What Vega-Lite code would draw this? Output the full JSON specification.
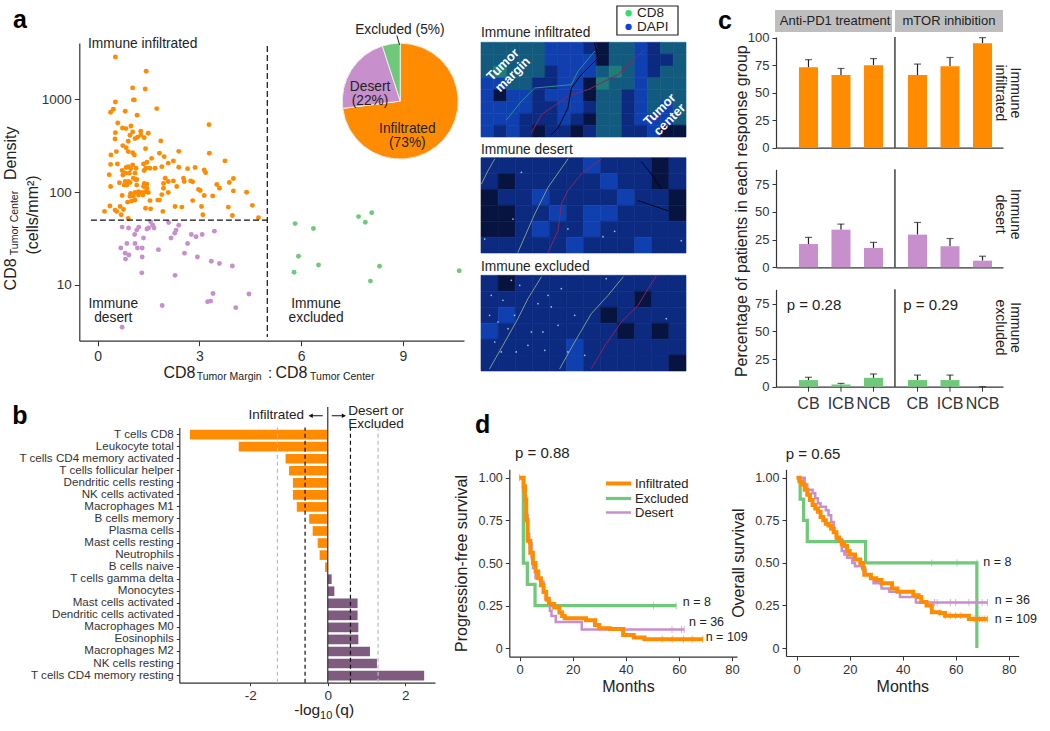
{
"$schema":"https://vega.github.io/schema/vega-lite/v6.json",
"width":1050,"height":731,"padding":0,"autosize":"none","background":"white",
"config":{"font":"Liberation Sans","view":{"stroke":null},
"text":{"font":"Liberation Sans","baseline":"middle","align":"left","color":"#222","lineBreak":"\n","fontSize":13.75,"lineHeight":14},
"axis":{"grid":false,"domainColor":"#333","tickColor":"#333","labelColor":"#333","titleColor":"#222","labelFont":"Liberation Sans","titleFont":"Liberation Sans","titleFontWeight":"normal","labelFontSize":13,"tickSize":4,"labelPadding":3,"labelOverlap":false,"labelFlush":false,"domainWidth":1.2,"tickWidth":1}},
"resolve":{"scale":{"x":"independent","y":"independent","color":"independent","theta":"independent","xOffset":"independent","strokeWidth":"independent"},"axis":{"x":"independent","y":"independent"}},
"datasets":{
"one":[{"note":1}],
"pie":[{"group":"Infiltrated","share":73,"rank":1},{"group":"Desert","share":22,"rank":2},{"group":"Excluded","share":5,"rank":3}],
"scatter":[
{"group":"Infiltrated","ratio":0.52,"density":2858},{"group":"Infiltrated","ratio":1.43,"density":2003},{"group":"Infiltrated","ratio":1.03,"density":1325},{"group":"Infiltrated","ratio":1.4,"density":1292},{"group":"Infiltrated","ratio":1.05,"density":984},{"group":"Infiltrated","ratio":1.08,"density":984},{"group":"Infiltrated","ratio":0.52,"density":936},{"group":"Infiltrated","ratio":0.46,"density":780},{"group":"Infiltrated","ratio":0.38,"density":725},{"group":"Infiltrated","ratio":0.81,"density":743},{"group":"Infiltrated","ratio":1.74,"density":793},{"group":"Infiltrated","ratio":1.16,"density":672},{"group":"Infiltrated","ratio":0.59,"density":556},{"group":"Infiltrated","ratio":3.28,"density":533},{"group":"Infiltrated","ratio":0.98,"density":516},{"group":"Infiltrated","ratio":0.73,"density":491},{"group":"Infiltrated","ratio":0.83,"density":483},{"group":"Infiltrated","ratio":0.52,"density":437},{"group":"Infiltrated","ratio":1.03,"density":445},{"group":"Infiltrated","ratio":1.27,"density":452},{"group":"Infiltrated","ratio":1.49,"density":430},{"group":"Infiltrated","ratio":0.95,"density":409},{"group":"Infiltrated","ratio":0.51,"density":374},{"group":"Infiltrated","ratio":1.17,"density":390},{"group":"Infiltrated","ratio":1.1,"density":377},{"group":"Infiltrated","ratio":1.27,"density":413},{"group":"Infiltrated","ratio":1.37,"density":386},{"group":"Infiltrated","ratio":1.86,"density":356},{"group":"Infiltrated","ratio":0.9,"density":353},{"group":"Infiltrated","ratio":0.74,"density":317},{"group":"Infiltrated","ratio":0.84,"density":301},{"group":"Infiltrated","ratio":1.41,"density":294},{"group":"Infiltrated","ratio":0.55,"density":273},{"group":"Infiltrated","ratio":0.39,"density":251},{"group":"Infiltrated","ratio":0.9,"density":273},{"group":"Infiltrated","ratio":1.03,"density":266},{"group":"Infiltrated","ratio":1.08,"density":251},{"group":"Infiltrated","ratio":3.29,"density":262},{"group":"Infiltrated","ratio":1.82,"density":262},{"group":"Infiltrated","ratio":1.96,"density":241},{"group":"Infiltrated","ratio":2.39,"density":275},{"group":"Infiltrated","ratio":1.59,"density":231},{"group":"Infiltrated","ratio":1.45,"density":210},{"group":"Infiltrated","ratio":1.35,"density":201},{"group":"Infiltrated","ratio":3.75,"density":217},{"group":"Infiltrated","ratio":2.23,"density":217},{"group":"Infiltrated","ratio":2.08,"density":205},{"group":"Infiltrated","ratio":2.87,"density":184},{"group":"Infiltrated","ratio":2.65,"density":179},{"group":"Infiltrated","ratio":2.39,"density":185},{"group":"Infiltrated","ratio":0.38,"density":199},{"group":"Infiltrated","ratio":0.58,"density":201},{"group":"Infiltrated","ratio":0.9,"density":188},{"group":"Infiltrated","ratio":1.03,"density":196},{"group":"Infiltrated","ratio":0.84,"density":184},{"group":"Infiltrated","ratio":0.97,"density":178},{"group":"Infiltrated","ratio":1.13,"density":181},{"group":"Infiltrated","ratio":0.72,"density":171},{"group":"Infiltrated","ratio":0.81,"density":160},{"group":"Infiltrated","ratio":1.89,"density":188},{"group":"Infiltrated","ratio":1.69,"density":181},{"group":"Infiltrated","ratio":1.54,"density":181},{"group":"Infiltrated","ratio":1.42,"density":181},{"group":"Infiltrated","ratio":1.37,"density":171},{"group":"Infiltrated","ratio":3.14,"density":173},{"group":"Infiltrated","ratio":3.18,"density":162},{"group":"Infiltrated","ratio":0.34,"density":154},{"group":"Infiltrated","ratio":0.74,"density":153},{"group":"Infiltrated","ratio":0.93,"density":160},{"group":"Infiltrated","ratio":1.1,"density":160},{"group":"Infiltrated","ratio":1.05,"density":141},{"group":"Infiltrated","ratio":1.99,"density":141},{"group":"Infiltrated","ratio":4.0,"density":140},{"group":"Infiltrated","ratio":1.13,"density":135},{"group":"Infiltrated","ratio":0.64,"density":126},{"group":"Infiltrated","ratio":0.81,"density":130},{"group":"Infiltrated","ratio":0.9,"density":130},{"group":"Infiltrated","ratio":1.15,"density":137},{"group":"Infiltrated","ratio":2.08,"density":130},{"group":"Infiltrated","ratio":2.23,"density":132},{"group":"Infiltrated","ratio":2.53,"density":141},{"group":"Infiltrated","ratio":2.55,"density":130},{"group":"Infiltrated","ratio":2.74,"density":132},{"group":"Infiltrated","ratio":2.8,"density":129},{"group":"Infiltrated","ratio":3.88,"density":127},{"group":"Infiltrated","ratio":1.37,"density":124},{"group":"Infiltrated","ratio":1.45,"density":122},{"group":"Infiltrated","ratio":1.94,"density":124},{"group":"Infiltrated","ratio":0.38,"density":115},{"group":"Infiltrated","ratio":0.78,"density":119},{"group":"Infiltrated","ratio":0.86,"density":119},{"group":"Infiltrated","ratio":0.95,"density":127},{"group":"Infiltrated","ratio":1.15,"density":119},{"group":"Infiltrated","ratio":1.35,"density":115},{"group":"Infiltrated","ratio":1.45,"density":110},{"group":"Infiltrated","ratio":2.33,"density":115},{"group":"Infiltrated","ratio":3.51,"density":121},{"group":"Infiltrated","ratio":3.59,"density":110},{"group":"Infiltrated","ratio":2.97,"density":107},{"group":"Infiltrated","ratio":3.02,"density":104},{"group":"Infiltrated","ratio":0.97,"density":97},{"group":"Infiltrated","ratio":1.1,"density":99},{"group":"Infiltrated","ratio":1.2,"density":101},{"group":"Infiltrated","ratio":1.3,"density":99},{"group":"Infiltrated","ratio":1.4,"density":101},{"group":"Infiltrated","ratio":1.49,"density":99},{"group":"Infiltrated","ratio":1.94,"density":110},{"group":"Infiltrated","ratio":2.08,"density":99},{"group":"Infiltrated","ratio":1.89,"density":94},{"group":"Infiltrated","ratio":3.14,"density":92},{"group":"Infiltrated","ratio":3.39,"density":91},{"group":"Infiltrated","ratio":4.0,"density":103},{"group":"Infiltrated","ratio":4.39,"density":99.5},{"group":"Infiltrated","ratio":0.72,"density":92},{"group":"Infiltrated","ratio":0.95,"density":90},{"group":"Infiltrated","ratio":1.05,"density":90},{"group":"Infiltrated","ratio":1.2,"density":93},{"group":"Infiltrated","ratio":1.33,"density":93},{"group":"Infiltrated","ratio":1.1,"density":82},{"group":"Infiltrated","ratio":1.0,"density":80},{"group":"Infiltrated","ratio":0.88,"density":78},{"group":"Infiltrated","ratio":1.54,"density":81},{"group":"Infiltrated","ratio":1.77,"density":82},{"group":"Infiltrated","ratio":1.82,"density":82},{"group":"Infiltrated","ratio":2.8,"density":81},{"group":"Infiltrated","ratio":0.36,"density":71},{"group":"Infiltrated","ratio":0.66,"density":70},{"group":"Infiltrated","ratio":0.51,"density":64},{"group":"Infiltrated","ratio":0.76,"density":65},{"group":"Infiltrated","ratio":1.41,"density":67},{"group":"Infiltrated","ratio":1.56,"density":66},{"group":"Infiltrated","ratio":2.28,"density":70},{"group":"Infiltrated","ratio":2.48,"density":69},{"group":"Infiltrated","ratio":3.06,"density":70},{"group":"Infiltrated","ratio":3.85,"density":69},{"group":"Infiltrated","ratio":4.56,"density":72},{"group":"Infiltrated","ratio":0.2,"density":62},{"group":"Infiltrated","ratio":0.56,"density":62},{"group":"Infiltrated","ratio":1.92,"density":62},{"group":"Infiltrated","ratio":0.69,"density":57},{"group":"Infiltrated","ratio":3.1,"density":57},{"group":"Infiltrated","ratio":3.97,"density":56},{"group":"Infiltrated","ratio":0.9,"density":52},{"group":"Infiltrated","ratio":4.74,"density":53},
{"group":"Desert","ratio":1.56,"density":48},{"group":"Desert","ratio":2.09,"density":47},{"group":"Desert","ratio":0.72,"density":42},{"group":"Desert","ratio":0.91,"density":41},{"group":"Desert","ratio":1.21,"density":42},{"group":"Desert","ratio":1.15,"density":39},{"group":"Desert","ratio":1.09,"density":35},{"group":"Desert","ratio":1.45,"density":40},{"group":"Desert","ratio":1.5,"density":41},{"group":"Desert","ratio":1.62,"density":44},{"group":"Desert","ratio":1.66,"density":41},{"group":"Desert","ratio":2.39,"density":44},{"group":"Desert","ratio":2.31,"density":39},{"group":"Desert","ratio":2.27,"density":36},{"group":"Desert","ratio":2.76,"density":35},{"group":"Desert","ratio":2.9,"density":33},{"group":"Desert","ratio":3.08,"density":35},{"group":"Desert","ratio":3.44,"density":38},{"group":"Desert","ratio":1.35,"density":32},{"group":"Desert","ratio":2.16,"density":32},{"group":"Desert","ratio":0.86,"density":28},{"group":"Desert","ratio":1.1,"density":28},{"group":"Desert","ratio":1.17,"density":25},{"group":"Desert","ratio":1.31,"density":25},{"group":"Desert","ratio":0.68,"density":25},{"group":"Desert","ratio":2.65,"density":28},{"group":"Desert","ratio":1.79,"density":24},{"group":"Desert","ratio":0.81,"density":22},{"group":"Desert","ratio":0.92,"density":21},{"group":"Desert","ratio":2.56,"density":22},{"group":"Desert","ratio":2.94,"density":20},{"group":"Desert","ratio":1.31,"density":20},{"group":"Desert","ratio":0.82,"density":19},{"group":"Desert","ratio":3.35,"density":18},{"group":"Desert","ratio":3.59,"density":17},{"group":"Desert","ratio":3.97,"density":16},{"group":"Desert","ratio":1.3,"density":13.5},{"group":"Desert","ratio":2.28,"density":12.7},{"group":"Desert","ratio":3.4,"density":8.1},{"group":"Desert","ratio":3.33,"density":6.7},{"group":"Desert","ratio":3.24,"density":6.6},{"group":"Desert","ratio":4.46,"density":8.0},{"group":"Desert","ratio":1.9,"density":6.0},{"group":"Desert","ratio":4.07,"density":5.7},{"group":"Desert","ratio":0.72,"density":3.5},
{"group":"Excluded","ratio":5.82,"density":45.8},{"group":"Excluded","ratio":6.36,"density":40.5},{"group":"Excluded","ratio":7.69,"density":54.5},{"group":"Excluded","ratio":8.08,"density":60},{"group":"Excluded","ratio":7.89,"density":47.3},{"group":"Excluded","ratio":5.92,"density":20.4},{"group":"Excluded","ratio":6.51,"density":16.4},{"group":"Excluded","ratio":8.31,"density":15.9},{"group":"Excluded","ratio":5.79,"density":13.7},{"group":"Excluded","ratio":10.66,"density":14.2},{"group":"Excluded","ratio":8.04,"density":11}],
"cells":[{"cell":"T cells CD8","q":-3.56,"side":"Infiltrated"},{"cell":"Leukocyte total","q":-2.3,"side":"Infiltrated"},{"cell":"T cells CD4 memory activated","q":-1.09,"side":"Infiltrated"},{"cell":"T cells follicular helper","q":-1.0,"side":"Infiltrated"},{"cell":"Dendritic cells resting","q":-0.9,"side":"Infiltrated"},{"cell":"NK cells activated","q":-0.9,"side":"Infiltrated"},{"cell":"Macrophages M1","q":-0.8,"side":"Infiltrated"},{"cell":"B cells memory","q":-0.48,"side":"Infiltrated"},{"cell":"Plasma cells","q":-0.39,"side":"Infiltrated"},{"cell":"Mast cells resting","q":-0.26,"side":"Infiltrated"},{"cell":"Neutrophils","q":-0.21,"side":"Infiltrated"},{"cell":"B cells naive","q":-0.07,"side":"Infiltrated"},{"cell":"T cells gamma delta","q":0.1,"side":"Desert or Excluded"},{"cell":"Monocytes","q":0.17,"side":"Desert or Excluded"},{"cell":"Mast cells activated","q":0.77,"side":"Desert or Excluded"},{"cell":"Dendritic cells activated","q":0.77,"side":"Desert or Excluded"},{"cell":"Macrophages M0","q":0.79,"side":"Desert or Excluded"},{"cell":"Eosinophils","q":0.79,"side":"Desert or Excluded"},{"cell":"Macrophages M2","q":1.09,"side":"Desert or Excluded"},{"cell":"NK cells resting","q":1.27,"side":"Desert or Excluded"},{"cell":"T cells CD4 memory resting","q":2.49,"side":"Desert or Excluded"}],
"cbars":[
{"type":"Immune infiltrated","treatment":"Anti-PD1 treatment","response":"CB","pct":73,"upper":80},{"type":"Immune infiltrated","treatment":"Anti-PD1 treatment","response":"ICB","pct":66,"upper":72},{"type":"Immune infiltrated","treatment":"Anti-PD1 treatment","response":"NCB","pct":75,"upper":81},{"type":"Immune infiltrated","treatment":"mTOR inhibition","response":"CB","pct":66,"upper":76},{"type":"Immune infiltrated","treatment":"mTOR inhibition","response":"ICB","pct":74,"upper":82},{"type":"Immune infiltrated","treatment":"mTOR inhibition","response":"NCB","pct":95,"upper":100},
{"type":"Immune desert","treatment":"Anti-PD1 treatment","response":"CB","pct":21,"upper":27},{"type":"Immune desert","treatment":"Anti-PD1 treatment","response":"ICB","pct":34,"upper":39},{"type":"Immune desert","treatment":"Anti-PD1 treatment","response":"NCB","pct":17.5,"upper":22.5},{"type":"Immune desert","treatment":"mTOR inhibition","response":"CB","pct":29.5,"upper":40.5},{"type":"Immune desert","treatment":"mTOR inhibition","response":"ICB","pct":19,"upper":26},{"type":"Immune desert","treatment":"mTOR inhibition","response":"NCB","pct":6,"upper":10},
{"type":"Immune excluded","treatment":"Anti-PD1 treatment","response":"CB","pct":6,"upper":8.5},{"type":"Immune excluded","treatment":"Anti-PD1 treatment","response":"ICB","pct":2,"upper":3},{"type":"Immune excluded","treatment":"Anti-PD1 treatment","response":"NCB","pct":8,"upper":11.5},{"type":"Immune excluded","treatment":"mTOR inhibition","response":"CB","pct":6,"upper":10.5},{"type":"Immune excluded","treatment":"mTOR inhibition","response":"ICB","pct":6,"upper":10.5},{"type":"Immune excluded","treatment":"mTOR inhibition","response":"NCB","pct":0,"upper":0}],
"km":[
{"p":"PFS","group":"Excluded","months":0,"surv":1},{"p":"PFS","group":"Excluded","months":1.4,"surv":0.5},{"p":"PFS","group":"Excluded","months":2.9,"surv":0.375},{"p":"PFS","group":"Excluded","months":5.8,"surv":0.25},{"p":"PFS","group":"Excluded","months":59,"surv":0.25},
{"p":"PFS","group":"Desert","months":0,"surv":1},{"p":"PFS","group":"Desert","months":1.5,"surv":0.95},{"p":"PFS","group":"Desert","months":2,"surv":0.89},{"p":"PFS","group":"Desert","months":2.5,"surv":0.78},{"p":"PFS","group":"Desert","months":3,"surv":0.67},{"p":"PFS","group":"Desert","months":3.6,"surv":0.615},{"p":"PFS","group":"Desert","months":4.5,"surv":0.53},{"p":"PFS","group":"Desert","months":5,"surv":0.47},{"p":"PFS","group":"Desert","months":6,"surv":0.41},{"p":"PFS","group":"Desert","months":8,"surv":0.39},{"p":"PFS","group":"Desert","months":9,"surv":0.33},{"p":"PFS","group":"Desert","months":10,"surv":0.28},{"p":"PFS","group":"Desert","months":11.4,"surv":0.22},{"p":"PFS","group":"Desert","months":12,"surv":0.19},{"p":"PFS","group":"Desert","months":13.6,"surv":0.154},{"p":"PFS","group":"Desert","months":23.4,"surv":0.11},{"p":"PFS","group":"Desert","months":62,"surv":0.11},
{"p":"PFS","group":"Infiltrated","months":0,"surv":1},{"p":"PFS","group":"Infiltrated","months":1.5,"surv":0.95},{"p":"PFS","group":"Infiltrated","months":2,"surv":0.87},{"p":"PFS","group":"Infiltrated","months":2.5,"surv":0.75},{"p":"PFS","group":"Infiltrated","months":3,"surv":0.63},{"p":"PFS","group":"Infiltrated","months":4,"surv":0.56},{"p":"PFS","group":"Infiltrated","months":5,"surv":0.5},{"p":"PFS","group":"Infiltrated","months":6,"surv":0.45},{"p":"PFS","group":"Infiltrated","months":7,"surv":0.41},{"p":"PFS","group":"Infiltrated","months":8,"surv":0.37},{"p":"PFS","group":"Infiltrated","months":9,"surv":0.33},{"p":"PFS","group":"Infiltrated","months":10,"surv":0.29},{"p":"PFS","group":"Infiltrated","months":11,"surv":0.26},{"p":"PFS","group":"Infiltrated","months":13,"surv":0.24},{"p":"PFS","group":"Infiltrated","months":15,"surv":0.21},{"p":"PFS","group":"Infiltrated","months":16,"surv":0.19},{"p":"PFS","group":"Infiltrated","months":17,"surv":0.176},{"p":"PFS","group":"Infiltrated","months":25,"surv":0.165},{"p":"PFS","group":"Infiltrated","months":28.4,"surv":0.137},{"p":"PFS","group":"Infiltrated","months":30,"surv":0.117},{"p":"PFS","group":"Infiltrated","months":34,"surv":0.113},{"p":"PFS","group":"Infiltrated","months":39,"surv":0.078},{"p":"PFS","group":"Infiltrated","months":43,"surv":0.064},{"p":"PFS","group":"Infiltrated","months":47,"surv":0.053},{"p":"PFS","group":"Infiltrated","months":69,"surv":0.053},
{"p":"OS","group":"Excluded","months":0,"surv":1},{"p":"OS","group":"Excluded","months":1.3,"surv":0.875},{"p":"OS","group":"Excluded","months":2.6,"surv":0.75},{"p":"OS","group":"Excluded","months":4,"surv":0.625},{"p":"OS","group":"Excluded","months":26,"surv":0.5},{"p":"OS","group":"Excluded","months":68,"surv":0},
{"p":"OS","group":"Desert","months":0,"surv":1},{"p":"OS","group":"Desert","months":2,"surv":1},{"p":"OS","group":"Desert","months":3,"surv":0.96},{"p":"OS","group":"Desert","months":4,"surv":0.93},{"p":"OS","group":"Desert","months":6,"surv":0.91},{"p":"OS","group":"Desert","months":7,"surv":0.88},{"p":"OS","group":"Desert","months":8,"surv":0.85},{"p":"OS","group":"Desert","months":9,"surv":0.83},{"p":"OS","group":"Desert","months":11,"surv":0.81},{"p":"OS","group":"Desert","months":12,"surv":0.78},{"p":"OS","group":"Desert","months":13,"surv":0.74},{"p":"OS","group":"Desert","months":14,"surv":0.68},{"p":"OS","group":"Desert","months":15,"surv":0.64},{"p":"OS","group":"Desert","months":17,"surv":0.57},{"p":"OS","group":"Desert","months":18,"surv":0.55},{"p":"OS","group":"Desert","months":19,"surv":0.53},{"p":"OS","group":"Desert","months":21,"surv":0.5},{"p":"OS","group":"Desert","months":22,"surv":0.48},{"p":"OS","group":"Desert","months":25,"surv":0.46},{"p":"OS","group":"Desert","months":26,"surv":0.43},{"p":"OS","group":"Desert","months":28,"surv":0.41},{"p":"OS","group":"Desert","months":29,"surv":0.38},{"p":"OS","group":"Desert","months":32,"surv":0.35},{"p":"OS","group":"Desert","months":35,"surv":0.33},{"p":"OS","group":"Desert","months":39,"surv":0.3},{"p":"OS","group":"Desert","months":45,"surv":0.267},{"p":"OS","group":"Desert","months":72,"surv":0.267},
{"p":"OS","group":"Infiltrated","months":0,"surv":1},{"p":"OS","group":"Infiltrated","months":1,"surv":0.98},{"p":"OS","group":"Infiltrated","months":2,"surv":0.96},{"p":"OS","group":"Infiltrated","months":3,"surv":0.93},{"p":"OS","group":"Infiltrated","months":4,"surv":0.9},{"p":"OS","group":"Infiltrated","months":5,"surv":0.87},{"p":"OS","group":"Infiltrated","months":6,"surv":0.84},{"p":"OS","group":"Infiltrated","months":7,"surv":0.82},{"p":"OS","group":"Infiltrated","months":8,"surv":0.8},{"p":"OS","group":"Infiltrated","months":9,"surv":0.77},{"p":"OS","group":"Infiltrated","months":10,"surv":0.75},{"p":"OS","group":"Infiltrated","months":11,"surv":0.73},{"p":"OS","group":"Infiltrated","months":12,"surv":0.72},{"p":"OS","group":"Infiltrated","months":13,"surv":0.7},{"p":"OS","group":"Infiltrated","months":14,"surv":0.68},{"p":"OS","group":"Infiltrated","months":15,"surv":0.65},{"p":"OS","group":"Infiltrated","months":16,"surv":0.63},{"p":"OS","group":"Infiltrated","months":17,"surv":0.61},{"p":"OS","group":"Infiltrated","months":18,"surv":0.6},{"p":"OS","group":"Infiltrated","months":19,"surv":0.57},{"p":"OS","group":"Infiltrated","months":20,"surv":0.55},{"p":"OS","group":"Infiltrated","months":22,"surv":0.52},{"p":"OS","group":"Infiltrated","months":24,"surv":0.5},{"p":"OS","group":"Infiltrated","months":25,"surv":0.47},{"p":"OS","group":"Infiltrated","months":25.5,"surv":0.43},{"p":"OS","group":"Infiltrated","months":28,"surv":0.41},{"p":"OS","group":"Infiltrated","months":30,"surv":0.4},{"p":"OS","group":"Infiltrated","months":32,"surv":0.38},{"p":"OS","group":"Infiltrated","months":36,"surv":0.35},{"p":"OS","group":"Infiltrated","months":38,"surv":0.33},{"p":"OS","group":"Infiltrated","months":44,"surv":0.31},{"p":"OS","group":"Infiltrated","months":46,"surv":0.3},{"p":"OS","group":"Infiltrated","months":47,"surv":0.27},{"p":"OS","group":"Infiltrated","months":49,"surv":0.25},{"p":"OS","group":"Infiltrated","months":51,"surv":0.21},{"p":"OS","group":"Infiltrated","months":54,"surv":0.205},{"p":"OS","group":"Infiltrated","months":56,"surv":0.19},{"p":"OS","group":"Infiltrated","months":64,"surv":0.19},{"p":"OS","group":"Infiltrated","months":65,"surv":0.17},{"p":"OS","group":"Infiltrated","months":72,"surv":0.17}],
"censor":[
{"p":"PFS","group":"Excluded","months":50.4,"surv":0.25},{"p":"PFS","group":"Excluded","months":59,"surv":0.25},{"p":"PFS","group":"Desert","months":57.4,"surv":0.11},{"p":"PFS","group":"Desert","months":61,"surv":0.11},{"p":"PFS","group":"Desert","months":62,"surv":0.11},{"p":"PFS","group":"Infiltrated","months":0,"surv":1},{"p":"PFS","group":"Infiltrated","months":1,"surv":0.93},{"p":"PFS","group":"Infiltrated","months":1.5,"surv":0.77},{"p":"PFS","group":"Infiltrated","months":53.7,"surv":0.053},{"p":"PFS","group":"Infiltrated","months":57.5,"surv":0.053},{"p":"PFS","group":"Infiltrated","months":61.7,"surv":0.053},{"p":"PFS","group":"Infiltrated","months":65,"surv":0.053},{"p":"PFS","group":"Infiltrated","months":69,"surv":0.053},
{"p":"OS","group":"Excluded","months":51,"surv":0.5},{"p":"OS","group":"Excluded","months":60.5,"surv":0.5},{"p":"OS","group":"Excluded","months":68,"surv":0.5},{"p":"OS","group":"Desert","months":52,"surv":0.267},{"p":"OS","group":"Desert","months":53,"surv":0.267},{"p":"OS","group":"Desert","months":58,"surv":0.267},{"p":"OS","group":"Desert","months":60,"surv":0.267},{"p":"OS","group":"Desert","months":65,"surv":0.267},{"p":"OS","group":"Desert","months":68,"surv":0.267},{"p":"OS","group":"Desert","months":70,"surv":0.267},{"p":"OS","group":"Desert","months":72,"surv":0.267},{"p":"OS","group":"Infiltrated","months":54,"surv":0.205},{"p":"OS","group":"Infiltrated","months":56,"surv":0.19},{"p":"OS","group":"Infiltrated","months":58,"surv":0.19},{"p":"OS","group":"Infiltrated","months":60,"surv":0.19},{"p":"OS","group":"Infiltrated","months":62,"surv":0.19},{"p":"OS","group":"Infiltrated","months":67,"surv":0.17},{"p":"OS","group":"Infiltrated","months":69,"surv":0.17},{"p":"OS","group":"Infiltrated","months":70,"surv":0.17},{"p":"OS","group":"Infiltrated","months":71,"surv":0.17},{"p":"OS","group":"Infiltrated","months":72,"surv":0.17}],
"tiles":[
{"im":"i","col":0,"row":0,"tone":3},{"im":"i","col":1,"row":0,"tone":3},{"im":"i","col":2,"row":0,"tone":3},{"im":"i","col":3,"row":0,"tone":3},{"im":"i","col":4,"row":0,"tone":3},{"im":"i","col":5,"row":0,"tone":2},{"im":"i","col":6,"row":0,"tone":2},{"im":"i","col":7,"row":0,"tone":2},{"im":"i","col":8,"row":0,"tone":1},{"im":"i","col":9,"row":0,"tone":0},{"im":"i","col":10,"row":0,"tone":3},{"im":"i","col":11,"row":0,"tone":3},{"im":"i","col":12,"row":0,"tone":2},{"im":"i","col":13,"row":0,"tone":1},{"im":"i","col":14,"row":0,"tone":3},{"im":"i","col":15,"row":0,"tone":3},
{"im":"i","col":0,"row":1,"tone":3},{"im":"i","col":1,"row":1,"tone":3},{"im":"i","col":2,"row":1,"tone":3},{"im":"i","col":3,"row":1,"tone":3},{"im":"i","col":4,"row":1,"tone":3},{"im":"i","col":5,"row":1,"tone":2},{"im":"i","col":6,"row":1,"tone":2},{"im":"i","col":7,"row":1,"tone":2},{"im":"i","col":8,"row":1,"tone":2},{"im":"i","col":9,"row":1,"tone":0},{"im":"i","col":10,"row":1,"tone":3},{"im":"i","col":11,"row":1,"tone":3},{"im":"i","col":12,"row":1,"tone":2},{"im":"i","col":13,"row":1,"tone":1},{"im":"i","col":14,"row":1,"tone":1},{"im":"i","col":15,"row":1,"tone":3},
{"im":"i","col":0,"row":2,"tone":3},{"im":"i","col":1,"row":2,"tone":4},{"im":"i","col":2,"row":2,"tone":3},{"im":"i","col":3,"row":2,"tone":3},{"im":"i","col":4,"row":2,"tone":3},{"im":"i","col":5,"row":2,"tone":1},{"im":"i","col":6,"row":2,"tone":2},{"im":"i","col":7,"row":2,"tone":2},{"im":"i","col":8,"row":2,"tone":2},{"im":"i","col":9,"row":2,"tone":3},{"im":"i","col":10,"row":2,"tone":4},{"im":"i","col":11,"row":2,"tone":3},{"im":"i","col":12,"row":2,"tone":2},{"im":"i","col":13,"row":2,"tone":1},{"im":"i","col":14,"row":2,"tone":3},{"im":"i","col":15,"row":2,"tone":3},
{"im":"i","col":0,"row":3,"tone":2},{"im":"i","col":1,"row":3,"tone":2},{"im":"i","col":2,"row":3,"tone":3},{"im":"i","col":3,"row":3,"tone":3},{"im":"i","col":4,"row":3,"tone":1},{"im":"i","col":5,"row":3,"tone":1},{"im":"i","col":6,"row":3,"tone":2},{"im":"i","col":7,"row":3,"tone":2},{"im":"i","col":8,"row":3,"tone":0},{"im":"i","col":9,"row":3,"tone":4},{"im":"i","col":10,"row":3,"tone":3},{"im":"i","col":11,"row":3,"tone":3},{"im":"i","col":12,"row":3,"tone":2},{"im":"i","col":13,"row":3,"tone":3},{"im":"i","col":14,"row":3,"tone":3},{"im":"i","col":15,"row":3,"tone":3},
{"im":"i","col":0,"row":4,"tone":2},{"im":"i","col":1,"row":4,"tone":0},{"im":"i","col":2,"row":4,"tone":2},{"im":"i","col":3,"row":4,"tone":2},{"im":"i","col":4,"row":4,"tone":1},{"im":"i","col":5,"row":4,"tone":2},{"im":"i","col":6,"row":4,"tone":2},{"im":"i","col":7,"row":4,"tone":2},{"im":"i","col":8,"row":4,"tone":0},{"im":"i","col":9,"row":4,"tone":3},{"im":"i","col":10,"row":4,"tone":3},{"im":"i","col":11,"row":4,"tone":1},{"im":"i","col":12,"row":4,"tone":2},{"im":"i","col":13,"row":4,"tone":3},{"im":"i","col":14,"row":4,"tone":3},{"im":"i","col":15,"row":4,"tone":3},
{"im":"i","col":0,"row":5,"tone":2},{"im":"i","col":1,"row":5,"tone":2},{"im":"i","col":2,"row":5,"tone":2},{"im":"i","col":3,"row":5,"tone":2},{"im":"i","col":4,"row":5,"tone":1},{"im":"i","col":5,"row":5,"tone":1},{"im":"i","col":6,"row":5,"tone":2},{"im":"i","col":7,"row":5,"tone":2},{"im":"i","col":8,"row":5,"tone":1},{"im":"i","col":9,"row":5,"tone":3},{"im":"i","col":10,"row":5,"tone":3},{"im":"i","col":11,"row":5,"tone":1},{"im":"i","col":12,"row":5,"tone":2},{"im":"i","col":13,"row":5,"tone":3},{"im":"i","col":14,"row":5,"tone":2},{"im":"i","col":15,"row":5,"tone":3},
{"im":"i","col":0,"row":6,"tone":2},{"im":"i","col":1,"row":6,"tone":2},{"im":"i","col":2,"row":6,"tone":2},{"im":"i","col":3,"row":6,"tone":1},{"im":"i","col":4,"row":6,"tone":1},{"im":"i","col":5,"row":6,"tone":1},{"im":"i","col":6,"row":6,"tone":2},{"im":"i","col":7,"row":6,"tone":1},{"im":"i","col":8,"row":6,"tone":0},{"im":"i","col":9,"row":6,"tone":3},{"im":"i","col":10,"row":6,"tone":3},{"im":"i","col":11,"row":6,"tone":1},{"im":"i","col":12,"row":6,"tone":2},{"im":"i","col":13,"row":6,"tone":2},{"im":"i","col":14,"row":6,"tone":2},{"im":"i","col":15,"row":6,"tone":3},
{"im":"i","col":0,"row":7,"tone":2},{"im":"i","col":1,"row":7,"tone":1},{"im":"i","col":2,"row":7,"tone":2},{"im":"i","col":3,"row":7,"tone":1},{"im":"i","col":4,"row":7,"tone":0},{"im":"i","col":5,"row":7,"tone":1},{"im":"i","col":6,"row":7,"tone":1},{"im":"i","col":7,"row":7,"tone":0},{"im":"i","col":8,"row":7,"tone":1},{"im":"i","col":9,"row":7,"tone":3},{"im":"i","col":10,"row":7,"tone":3},{"im":"i","col":11,"row":7,"tone":1},{"im":"i","col":12,"row":7,"tone":1},{"im":"i","col":13,"row":7,"tone":2},{"im":"i","col":14,"row":7,"tone":0},{"im":"i","col":15,"row":7,"tone":0},
{"im":"d","col":0,"row":0,"tone":6},{"im":"d","col":1,"row":0,"tone":6},{"im":"d","col":2,"row":0,"tone":6},{"im":"d","col":3,"row":0,"tone":6},{"im":"d","col":4,"row":0,"tone":6},{"im":"d","col":5,"row":0,"tone":6},{"im":"d","col":6,"row":0,"tone":7},{"im":"d","col":7,"row":0,"tone":6},{"im":"d","col":8,"row":0,"tone":6},{"im":"d","col":9,"row":0,"tone":6},{"im":"d","col":10,"row":0,"tone":5},{"im":"d","col":11,"row":0,"tone":6},
{"im":"d","col":0,"row":1,"tone":6},{"im":"d","col":1,"row":1,"tone":5},{"im":"d","col":2,"row":1,"tone":6},{"im":"d","col":3,"row":1,"tone":6},{"im":"d","col":4,"row":1,"tone":6},{"im":"d","col":5,"row":1,"tone":6},{"im":"d","col":6,"row":1,"tone":6},{"im":"d","col":7,"row":1,"tone":7},{"im":"d","col":8,"row":1,"tone":6},{"im":"d","col":9,"row":1,"tone":6},{"im":"d","col":10,"row":1,"tone":5},{"im":"d","col":11,"row":1,"tone":6},
{"im":"d","col":0,"row":2,"tone":5},{"im":"d","col":1,"row":2,"tone":6},{"im":"d","col":2,"row":2,"tone":6},{"im":"d","col":3,"row":2,"tone":7},{"im":"d","col":4,"row":2,"tone":6},{"im":"d","col":5,"row":2,"tone":6},{"im":"d","col":6,"row":2,"tone":6},{"im":"d","col":7,"row":2,"tone":6},{"im":"d","col":8,"row":2,"tone":7},{"im":"d","col":9,"row":2,"tone":6},{"im":"d","col":10,"row":2,"tone":6},{"im":"d","col":11,"row":2,"tone":5},
{"im":"d","col":0,"row":3,"tone":5},{"im":"d","col":1,"row":3,"tone":5},{"im":"d","col":2,"row":3,"tone":6},{"im":"d","col":3,"row":3,"tone":6},{"im":"d","col":4,"row":3,"tone":7},{"im":"d","col":5,"row":3,"tone":6},{"im":"d","col":6,"row":3,"tone":7},{"im":"d","col":7,"row":3,"tone":7},{"im":"d","col":8,"row":3,"tone":6},{"im":"d","col":9,"row":3,"tone":6},{"im":"d","col":10,"row":3,"tone":6},{"im":"d","col":11,"row":3,"tone":5},
{"im":"d","col":0,"row":4,"tone":5},{"im":"d","col":1,"row":4,"tone":5},{"im":"d","col":2,"row":4,"tone":6},{"im":"d","col":3,"row":4,"tone":7},{"im":"d","col":4,"row":4,"tone":6},{"im":"d","col":5,"row":4,"tone":6},{"im":"d","col":6,"row":4,"tone":7},{"im":"d","col":7,"row":4,"tone":6},{"im":"d","col":8,"row":4,"tone":6},{"im":"d","col":9,"row":4,"tone":6},{"im":"d","col":10,"row":4,"tone":6},{"im":"d","col":11,"row":4,"tone":6},
{"im":"d","col":0,"row":5,"tone":6},{"im":"d","col":1,"row":5,"tone":6},{"im":"d","col":2,"row":5,"tone":6},{"im":"d","col":3,"row":5,"tone":6},{"im":"d","col":4,"row":5,"tone":6},{"im":"d","col":5,"row":5,"tone":7},{"im":"d","col":6,"row":5,"tone":6},{"im":"d","col":7,"row":5,"tone":6},{"im":"d","col":8,"row":5,"tone":6},{"im":"d","col":9,"row":5,"tone":7},{"im":"d","col":10,"row":5,"tone":6},{"im":"d","col":11,"row":5,"tone":6},
{"im":"e","col":0,"row":0,"tone":6},{"im":"e","col":1,"row":0,"tone":5},{"im":"e","col":2,"row":0,"tone":6},{"im":"e","col":3,"row":0,"tone":6},{"im":"e","col":4,"row":0,"tone":6},{"im":"e","col":5,"row":0,"tone":6},{"im":"e","col":6,"row":0,"tone":6},{"im":"e","col":7,"row":0,"tone":6},{"im":"e","col":8,"row":0,"tone":6},{"im":"e","col":9,"row":0,"tone":6},{"im":"e","col":10,"row":0,"tone":6},{"im":"e","col":11,"row":0,"tone":6},
{"im":"e","col":0,"row":1,"tone":6},{"im":"e","col":1,"row":1,"tone":6},{"im":"e","col":2,"row":1,"tone":6},{"im":"e","col":3,"row":1,"tone":6},{"im":"e","col":4,"row":1,"tone":6},{"im":"e","col":5,"row":1,"tone":6},{"im":"e","col":6,"row":1,"tone":6},{"im":"e","col":7,"row":1,"tone":6},{"im":"e","col":8,"row":1,"tone":6},{"im":"e","col":9,"row":1,"tone":5},{"im":"e","col":10,"row":1,"tone":6},{"im":"e","col":11,"row":1,"tone":6},
{"im":"e","col":0,"row":2,"tone":6},{"im":"e","col":1,"row":2,"tone":7},{"im":"e","col":2,"row":2,"tone":6},{"im":"e","col":3,"row":2,"tone":6},{"im":"e","col":4,"row":2,"tone":6},{"im":"e","col":5,"row":2,"tone":6},{"im":"e","col":6,"row":2,"tone":6},{"im":"e","col":7,"row":2,"tone":5},{"im":"e","col":8,"row":2,"tone":6},{"im":"e","col":9,"row":2,"tone":6},{"im":"e","col":10,"row":2,"tone":6},{"im":"e","col":11,"row":2,"tone":6},
{"im":"e","col":0,"row":3,"tone":7},{"im":"e","col":1,"row":3,"tone":6},{"im":"e","col":2,"row":3,"tone":6},{"im":"e","col":3,"row":3,"tone":6},{"im":"e","col":4,"row":3,"tone":6},{"im":"e","col":5,"row":3,"tone":6},{"im":"e","col":6,"row":3,"tone":6},{"im":"e","col":7,"row":3,"tone":6},{"im":"e","col":8,"row":3,"tone":5},{"im":"e","col":9,"row":3,"tone":6},{"im":"e","col":10,"row":3,"tone":5},{"im":"e","col":11,"row":3,"tone":6},
{"im":"e","col":0,"row":4,"tone":6},{"im":"e","col":1,"row":4,"tone":6},{"im":"e","col":2,"row":4,"tone":6},{"im":"e","col":3,"row":4,"tone":6},{"im":"e","col":4,"row":4,"tone":6},{"im":"e","col":5,"row":4,"tone":7},{"im":"e","col":6,"row":4,"tone":6},{"im":"e","col":7,"row":4,"tone":6},{"im":"e","col":8,"row":4,"tone":6},{"im":"e","col":9,"row":4,"tone":6},{"im":"e","col":10,"row":4,"tone":6},{"im":"e","col":11,"row":4,"tone":6},
{"im":"e","col":0,"row":5,"tone":6},{"im":"e","col":1,"row":5,"tone":6},{"im":"e","col":2,"row":5,"tone":6},{"im":"e","col":3,"row":5,"tone":6},{"im":"e","col":4,"row":5,"tone":6},{"im":"e","col":5,"row":5,"tone":7},{"im":"e","col":6,"row":5,"tone":6},{"im":"e","col":7,"row":5,"tone":6},{"im":"e","col":8,"row":5,"tone":6},{"im":"e","col":9,"row":5,"tone":6},{"im":"e","col":10,"row":5,"tone":6},{"im":"e","col":11,"row":5,"tone":5}],
"traces":[
{"line":"i1","kind":"faint","seq":1,"u":0.124,"v":2.626},{"line":"i1","kind":"faint","seq":2,"u":0.197,"v":2.818},{"line":"i1","kind":"faint","seq":3,"u":0.262,"v":2.957},{"line":"i1","kind":"faint","seq":4,"u":0.441,"v":2.992},{"line":"i1","kind":"faint","seq":5,"u":0.473,"v":3.132},{"line":"i1","kind":"faint","seq":6,"u":0.554,"v":3.34},
{"line":"i2","kind":"boundary","seq":1,"u":0.246,"v":2.487},{"line":"i2","kind":"boundary","seq":2,"u":0.294,"v":2.678},{"line":"i2","kind":"boundary","seq":3,"u":0.424,"v":2.87},{"line":"i2","kind":"boundary","seq":4,"u":0.522,"v":2.94},{"line":"i2","kind":"boundary","seq":5,"u":0.668,"v":3.097},{"line":"i2","kind":"boundary","seq":6,"u":0.798,"v":3.358},
{"line":"i3","kind":"gap","seq":1,"u":0.554,"v":3.427},{"line":"i3","kind":"gap","seq":2,"u":0.571,"v":3.271},{"line":"i3","kind":"gap","seq":3,"u":0.489,"v":3.097},{"line":"i3","kind":"gap","seq":4,"u":0.441,"v":2.957},{"line":"i3","kind":"gap","seq":5,"u":0.424,"v":2.748},{"line":"i3","kind":"gap","seq":6,"u":0.376,"v":2.539},{"line":"i3","kind":"gap","seq":7,"u":0.343,"v":2.47},
{"line":"d1","kind":"margin","seq":1,"u":0.002,"v":1.954},{"line":"d1","kind":"margin","seq":2,"u":0.034,"v":2.093},{"line":"d1","kind":"margin","seq":3,"u":0.067,"v":2.215},
{"line":"d2","kind":"margin","seq":1,"u":0.18,"v":1.24},{"line":"d2","kind":"margin","seq":2,"u":0.262,"v":1.64},{"line":"d2","kind":"margin","seq":3,"u":0.327,"v":1.919},{"line":"d2","kind":"margin","seq":4,"u":0.424,"v":2.215},
{"line":"d3","kind":"boundary","seq":1,"u":0.327,"v":1.24},{"line":"d3","kind":"boundary","seq":2,"u":0.376,"v":1.466},{"line":"d3","kind":"boundary","seq":3,"u":0.392,"v":1.745},{"line":"d3","kind":"boundary","seq":4,"u":0.424,"v":1.884},{"line":"d3","kind":"boundary","seq":5,"u":0.489,"v":2.058},{"line":"d3","kind":"boundary","seq":6,"u":0.587,"v":2.215},
{"line":"d4","kind":"hole","seq":1,"u":0.782,"v":2.187},{"line":"d4","kind":"hole","seq":2,"u":0.831,"v":2.058},{"line":"d4","kind":"hole","seq":3,"u":0.88,"v":1.901},
{"line":"d5","kind":"gap","seq":1,"u":0.766,"v":1.78},{"line":"d5","kind":"gap","seq":2,"u":0.912,"v":1.675},
{"line":"e1","kind":"margin","seq":1,"u":0.042,"v":0.024},{"line":"e1","kind":"margin","seq":2,"u":0.107,"v":0.268},{"line":"e1","kind":"margin","seq":3,"u":0.18,"v":0.547},{"line":"e1","kind":"margin","seq":4,"u":0.229,"v":0.756},{"line":"e1","kind":"margin","seq":5,"u":0.294,"v":0.982},
{"line":"e2","kind":"margin","seq":1,"u":0.384,"v":0.024},{"line":"e2","kind":"margin","seq":2,"u":0.457,"v":0.303},{"line":"e2","kind":"margin","seq":3,"u":0.538,"v":0.599},{"line":"e2","kind":"margin","seq":4,"u":0.62,"v":0.791},{"line":"e2","kind":"margin","seq":5,"u":0.693,"v":0.982},
{"line":"e3","kind":"boundary","seq":1,"u":0.538,"v":0.024},{"line":"e3","kind":"boundary","seq":2,"u":0.611,"v":0.286},{"line":"e3","kind":"boundary","seq":3,"u":0.685,"v":0.512},{"line":"e3","kind":"boundary","seq":4,"u":0.766,"v":0.686},{"line":"e3","kind":"boundary","seq":5,"u":0.815,"v":0.86},{"line":"e3","kind":"boundary","seq":6,"u":0.855,"v":0.993}],
"speckles":[{"u":0.05,"v":0.791},{"u":0.107,"v":0.739},{"u":0.083,"v":0.512},{"u":0.067,"v":0.303},{"u":0.132,"v":0.442},{"u":0.172,"v":0.199},{"u":0.246,"v":0.408},{"u":0.164,"v":0.582},{"u":0.327,"v":0.791},{"u":0.343,"v":0.669},{"u":0.278,"v":0.704},{"u":0.392,"v":0.86},{"u":0.424,"v":0.199},{"u":0.311,"v":0.216},{"u":0.189,"v":0.895},{"u":0.042,"v":0.582},{"u":0.457,"v":0.582},{"u":0.099,"v":0.199},{"u":0.229,"v":0.268},{"u":0.376,"v":0.477},{"u":0.611,"v":0.965},{"u":0.904,"v":0.547},{"u":0.506,"v":0.164},{"u":0.148,"v":0.947},{"u":0.302,"v":0.408},{"u":0.156,"v":1.588},{"u":0.018,"v":1.379},{"u":0.424,"v":1.484},{"u":0.652,"v":1.459},{"u":0.977,"v":1.362},{"u":0.595,"v":1.404},{"u":0.197,"v":2.076}]
},
"layer":[
{"data":{"name":"one"},"layer":[
{"data":{"name":"scatter"},"mark":{"type":"circle","size":24,"opacity":1},"encoding":{
"x":{"field":"ratio","type":"quantitative","scale":{"domain":[-0.543,10.8],"range":[79.3,464],"nice":false,"zero":false},"axis":{"orient":"bottom","offset":-390.3,"values":[0,3,6,9],"format":"d","title":null,"labelFontSize":14,"tickSize":5,"labelPadding":4}},
"y":{"field":"density","type":"quantitative","scale":{"type":"log","domain":[2.51,4037],"range":[340.7,43],"nice":false},"axis":{"orient":"left","offset":-79.3,"values":[10,100,1000],"format":"d","title":null,"labelFontSize":13.5,"tickSize":5}},
"color":{"field":"group","type":"nominal","scale":{"domain":["Infiltrated","Desert","Excluded"],"range":["#FF8C00","#C78FCC","#70C97A"]},"legend":null}}},
{"mark":{"type":"rule","color":"#111","strokeWidth":1.2,"strokeDash":[6,3]},"encoding":{"x":{"datum":5},"y":{"datum":3750},"y2":{"datum":2.75}}},
{"mark":{"type":"rule","color":"#111","strokeWidth":1.2,"strokeDash":[6,3]},"encoding":{"x":{"datum":-0.2},"x2":{"datum":5},"y":{"datum":50}}},
{"data":{"name":"pie"},"mark":{"type":"arc","outerRadius":58,"stroke":"#eee","strokeWidth":1},"encoding":{"theta":{"field":"share","type":"quantitative","scale":{"domain":[0,100]}},"order":{"field":"rank"},"color":{"field":"group","type":"nominal","legend":null},"x":{"datum":8.92},"y":{"datum":955}}},
{"mark":{"type":"rule","color":"#222","strokeWidth":1},"encoding":{"x":{"datum":8.82},"x2":{"datum":8.9},"y":{"datum":4880},"y2":{"datum":3847}}},
{"mark":{"type":"text","fontSize":25,"fontWeight":"bold","align":"center","color":"#000"},"encoding":{"x":{"datum":-2.29},"y":{"datum":7145},"text":{"value":"a"}}},
{"mark":{"type":"text"},"encoding":{"x":{"datum":-0.286},"y":{"datum":3890},"text":{"value":"Immune infiltrated"}}},
{"mark":{"type":"text","align":"center"},"encoding":{"x":{"datum":0.46},"y":{"datum":6.19},"text":{"value":"Immune\ndesert"}}},
{"mark":{"type":"text","align":"center"},"encoding":{"x":{"datum":6.44},"y":{"datum":6.19},"text":{"value":"Immune\nexcluded"}}},
{"mark":{"type":"text","align":"center"},"encoding":{"x":{"datum":8.91},"y":{"datum":5570},"text":{"value":"Excluded (5%)"}}},
{"mark":{"type":"text","align":"center"},"encoding":{"x":{"datum":8.03},"y":{"datum":1340},"text":{"value":"Desert\n(22%)"}}},
{"mark":{"type":"text","align":"center"},"encoding":{"x":{"datum":9.13},"y":{"datum":475},"text":{"value":"Infiltrated\n(73%)"}}},
{"mark":{"type":"text","fontSize":16},"encoding":{"x":{"datum":1.94},"y":{"datum":1.12},"text":{"value":"CD8"}}},
{"mark":{"type":"text","fontSize":10.5},"encoding":{"x":{"datum":2.92},"y":{"datum":1.02},"text":{"value":"Tumor Margin"}}},
{"mark":{"type":"text","fontSize":15},"encoding":{"x":{"datum":5.02},"y":{"datum":1.12},"text":{"value":":"}}},
{"mark":{"type":"text","fontSize":16},"encoding":{"x":{"datum":5.24},"y":{"datum":1.12},"text":{"value":"CD8"}}},
{"mark":{"type":"text","fontSize":10.5},"encoding":{"x":{"datum":6.26},"y":{"datum":1.02},"text":{"value":"Tumor Center"}}},
{"mark":{"type":"text","fontSize":16,"angle":270,"align":"center"},"encoding":{"x":{"datum":-2.57},"y":{"datum":13},"text":{"value":"CD8"}}},
{"mark":{"type":"text","fontSize":10.5,"angle":270,"align":"center"},"encoding":{"x":{"datum":-2.45},"y":{"datum":46.5},"text":{"value":"Tumor Center"}}},
{"mark":{"type":"text","fontSize":16,"angle":270,"align":"center"},"encoding":{"x":{"datum":-2.57},"y":{"datum":262},"text":{"value":"Density"}}},
{"mark":{"type":"text","fontSize":16,"angle":270,"align":"center"},"encoding":{"x":{"datum":-1.91},"y":{"datum":56.8},"text":{"value":"(cells/mm²)"}}}
]},
{"data":{"name":"cells"},"mark":{"type":"bar"},"encoding":{
"x":{"field":"q","type":"quantitative","stack":null,"scale":{"domain":[-3.835,2.77],"range":[179.3,435],"nice":false,"zero":false},"axis":{"orient":"bottom","offset":-48.3,"values":[-2,0,2],"labelExpr":"datum.value+''","title":null,"labelFontSize":13.5,"tickSize":3}},
"y":{"field":"cell","type":"nominal","sort":null,"scale":{"range":[427.5,682.7],"paddingInner":0.2,"paddingOuter":0.19},"axis":{"orient":"left","offset":-179.3,"title":null,"labelFontSize":11.6,"tickSize":3,"labelPadding":3,"labelLimit":300}},
"color":{"field":"side","type":"nominal","scale":{"domain":["Infiltrated","Desert or Excluded"],"range":["#FF8C00","#7F5B80"]},"legend":null}}},
{"data":{"name":"one"},"layer":[
{"mark":{"type":"rule","color":"#333","strokeWidth":1.2},"encoding":{"x":{"datum":0,"axis":null,"scale":{"domain":[-3.835,2.77],"range":[179.3,435],"nice":false,"zero":false}},"y":{"datum":0,"axis":null,"scale":{"domain":[0,1],"range":[682.7,427.5],"nice":false}},"y2":{"datum":1.08}}},
{"mark":{"type":"rule","color":"#111","strokeWidth":1.2,"strokeDash":[4,3]},"encoding":{"x":{"datum":-0.586,"axis":null},"y":{"datum":0,"axis":null},"y2":{"datum":1}}},
{"mark":{"type":"rule","color":"#111","strokeWidth":1.2,"strokeDash":[4,3]},"encoding":{"x":{"datum":0.586,"axis":null},"y":{"datum":0,"axis":null},"y2":{"datum":1}}},
{"mark":{"type":"rule","color":"#bbb","strokeWidth":1.2,"strokeDash":[4,3]},"encoding":{"x":{"datum":-1.3,"axis":null},"y":{"datum":0,"axis":null},"y2":{"datum":1}}},
{"mark":{"type":"rule","color":"#bbb","strokeWidth":1.2,"strokeDash":[4,3]},"encoding":{"x":{"datum":1.3,"axis":null},"y":{"datum":0,"axis":null},"y2":{"datum":1}}},
{"mark":{"type":"rule","color":"#111","strokeWidth":1},"encoding":{"x":{"datum":-0.473,"axis":null},"x2":{"datum":-0.129},"y":{"datum":1.046,"axis":null}}},
{"mark":{"type":"rule","color":"#111","strokeWidth":1},"encoding":{"x":{"datum":0.103,"axis":null},"x2":{"datum":0.448},"y":{"datum":1.046,"axis":null}}},
{"mark":{"type":"point","shape":"triangle-left","filled":true,"size":22,"color":"#111","opacity":1},"encoding":{"x":{"datum":-0.44,"axis":null},"y":{"datum":1.046,"axis":null}}},
{"mark":{"type":"point","shape":"triangle-right","filled":true,"size":22,"color":"#111","opacity":1},"encoding":{"x":{"datum":0.415,"axis":null},"y":{"datum":1.046,"axis":null}}},
{"mark":{"type":"text","fontSize":13.5,"align":"right"},"encoding":{"x":{"datum":-0.612,"axis":null},"y":{"datum":1.049,"axis":null},"text":{"value":"Infiltrated"}}},
{"mark":{"type":"text","fontSize":13.5,"lineHeight":13},"encoding":{"x":{"datum":0.53,"axis":null},"y":{"datum":1.065,"axis":null},"text":{"value":"Desert or\nExcluded"}}},
{"mark":{"type":"text","fontSize":25,"fontWeight":"bold","align":"center","color":"#000"},"encoding":{"x":{"datum":-7.95,"axis":null},"y":{"datum":1.046,"axis":null},"text":{"value":"b"}}},
{"mark":{"type":"text","fontSize":15.5},"encoding":{"x":{"datum":-0.863,"axis":null},"y":{"datum":-0.107,"axis":null},"text":{"value":"-log"}}},
{"mark":{"type":"text","fontSize":11},"encoding":{"x":{"datum":-0.2,"axis":null},"y":{"datum":-0.129,"axis":null},"text":{"value":"10"}}},
{"mark":{"type":"text","fontSize":15.5},"encoding":{"x":{"datum":0.19,"axis":null},"y":{"datum":-0.107,"axis":null},"text":{"value":"(q)"}}}
]},
{"data":{"name":"tiles"},"transform":[{"filter":"datum.im==='i'"}],"mark":{"type":"rect","strokeWidth":0.6},"encoding":{"x":{"field":"col","type":"ordinal","axis":null,"scale":{"range":[481,686]}},"y":{"field":"row","type":"ordinal","axis":null,"scale":{"range":[42.3,137]}},"fill":{"field":"tone","type":"ordinal","legend":null,"scale":{"domain":[0,1,2,3,4],"range":["#081440","#0b2a80","#1040b0","#125a7e","#207c78"]}},"stroke":{"field":"tone","type":"ordinal","legend":null,"scale":{"domain":[0,1,2,3,4],"range":["#081440","#0b2a80","#1040b0","#125a7e","#207c78"]}}}},
{"data":{"name":"tiles"},"transform":[{"filter":"datum.im==='d'"}],"mark":{"type":"rect","strokeWidth":0.6},"encoding":{"x":{"field":"col","type":"ordinal","axis":null,"scale":{"range":[481,686]}},"y":{"field":"row","type":"ordinal","axis":null,"scale":{"range":[157.7,253]}},"fill":{"field":"tone","type":"ordinal","legend":null,"scale":{"domain":[5,6,7],"range":["#000a78","#000e96","#0416aa"]}},"stroke":{"field":"tone","type":"ordinal","legend":null,"scale":{"domain":[5,6,7],"range":["#000a78","#000e96","#0416aa"]}}}},
{"data":{"name":"tiles"},"transform":[{"filter":"datum.im==='e'"}],"mark":{"type":"rect","strokeWidth":0.6},"encoding":{"x":{"field":"col","type":"ordinal","axis":null,"scale":{"range":[481,686]}},"y":{"field":"row","type":"ordinal","axis":null,"scale":{"range":[275.3,371]}},"fill":{"field":"tone","type":"ordinal","legend":null,"scale":{"domain":[5,6,7],"range":["#000a78","#000e96","#0416aa"]}},"stroke":{"field":"tone","type":"ordinal","legend":null,"scale":{"domain":[5,6,7],"range":["#000a78","#000e96","#0416aa"]}}}},
{"data":{"name":"one"},"layer":[
{"data":{"name":"traces"},"mark":{"type":"line","strokeCap":"round"},"encoding":{"x":{"field":"u","type":"quantitative","axis":null,"scale":{"domain":[0,1],"range":[481,686],"nice":false,"zero":false}},"y":{"field":"v","type":"quantitative","axis":null,"scale":{"domain":[0,3.814],"range":[371,6],"nice":false,"zero":false}},"detail":{"field":"line"},"order":{"field":"seq"},"color":{"field":"kind","type":"nominal","legend":null,"scale":{"domain":["margin","faint","boundary","gap","hole"],"range":["#7f9a8a","#2f8f90","#8a2560","#050510","#00002a"]}},"strokeWidth":{"field":"kind","type":"nominal","legend":null,"scale":{"domain":["margin","faint","boundary","gap","hole"],"range":[1,1,1,2.5,7]}}}},
{"data":{"name":"speckles"},"mark":{"type":"circle","size":3,"color":"#9fd8e8","opacity":0.9},"encoding":{"x":{"field":"u","type":"quantitative","axis":null},"y":{"field":"v","type":"quantitative","axis":null}}},
{"mark":{"type":"text","fill":"#fff","color":"#fff","fontWeight":"bold","fontSize":13,"angle":315,"align":"center","lineHeight":14},"encoding":{"x":{"datum":0.107,"axis":null},"y":{"datum":3.2,"axis":null},"text":{"value":"Tumor\nmargin"}}},
{"mark":{"type":"text","fill":"#fff","color":"#fff","fontWeight":"bold","fontSize":13,"angle":315,"align":"center","lineHeight":14},"encoding":{"x":{"datum":0.872,"axis":null},"y":{"datum":2.73,"axis":null},"text":{"value":"Tumor\ncenter"}}},
{"mark":{"type":"text"},"encoding":{"x":{"datum":0,"axis":null},"y":{"datum":3.537,"axis":null},"text":{"value":"Immune infiltrated"}}},
{"mark":{"type":"text"},"encoding":{"x":{"datum":0,"axis":null},"y":{"datum":2.309,"axis":null},"text":{"value":"Immune desert"}}},
{"mark":{"type":"text"},"encoding":{"x":{"datum":0,"axis":null},"y":{"datum":1.087,"axis":null},"text":{"value":"Immune excluded"}}},
{"mark":{"type":"rect","fill":"#fff","stroke":"#222","strokeWidth":1.2},"encoding":{"x":{"datum":0.663,"axis":null},"x2":{"datum":0.961},"y":{"datum":3.814,"axis":null},"y2":{"datum":3.511}}},
{"mark":{"type":"circle","size":40,"color":"#2fe06a","opacity":1},"encoding":{"x":{"datum":0.72,"axis":null},"y":{"datum":3.738,"axis":null}}},
{"mark":{"type":"circle","size":40,"color":"#1440e0","opacity":1},"encoding":{"x":{"datum":0.72,"axis":null},"y":{"datum":3.595,"axis":null}}},
{"mark":{"type":"text","fontSize":13.5},"encoding":{"x":{"datum":0.761,"axis":null},"y":{"datum":3.738,"axis":null},"text":{"value":"CD8"}}},
{"mark":{"type":"text","fontSize":13.5},"encoding":{"x":{"datum":0.761,"axis":null},"y":{"datum":3.595,"axis":null},"text":{"value":"DAPI"}}}
]},
{"data":{"name":"cbars"},"transform":[{"filter":"datum.type==='Immune infiltrated'"}],
"encoding":{"x":{"field":"treatment","type":"nominal","sort":null,"scale":{"range":[776,1003],"paddingInner":0.2,"paddingOuter":0.141,"align":0.695},"axis":{"orient":"bottom","offset":-583.3,"labels":false,"ticks":false,"title":null}},"xOffset":{"field":"response","type":"nominal","sort":null,"scale":{"paddingInner":0.415,"paddingOuter":0.049}}},
"layer":[
{"mark":{"type":"rule","color":"#222","strokeWidth":1.2},"encoding":{"y":{"field":"pct","type":"quantitative","scale":{"domain":[0,100.6],"range":[147.7,37],"nice":false},"axis":{"orient":"left","offset":-776,"values":[0,25,50,75,100],"title":null}},"y2":{"field":"upper"}}},
{"mark":{"type":"tick","size":7,"thickness":1.2,"color":"#222"},"encoding":{"y":{"field":"upper","type":"quantitative"}}},
{"mark":{"type":"bar","color":"#FF8C00"},"encoding":{"y":{"field":"pct","type":"quantitative","stack":null}}}]},
{"data":{"name":"cbars"},"transform":[{"filter":"datum.type==='Immune desert'"}],
"encoding":{"x":{"field":"treatment","type":"nominal","sort":null,"scale":{"range":[776,1003],"paddingInner":0.2,"paddingOuter":0.141,"align":0.695},"axis":{"orient":"bottom","offset":-463.7,"labels":false,"ticks":false,"title":null}},"xOffset":{"field":"response","type":"nominal","sort":null,"scale":{"paddingInner":0.415,"paddingOuter":0.049}}},
"layer":[
{"mark":{"type":"rule","color":"#222","strokeWidth":1.2},"encoding":{"y":{"field":"pct","type":"quantitative","scale":{"domain":[0,88.5],"range":[267.3,169.3],"nice":false},"axis":{"orient":"left","offset":-776,"values":[0,25,50,75],"title":null}},"y2":{"field":"upper"}}},
{"mark":{"type":"tick","size":7,"thickness":1.2,"color":"#222"},"encoding":{"y":{"field":"upper","type":"quantitative"}}},
{"mark":{"type":"bar","color":"#C78FCC"},"encoding":{"y":{"field":"pct","type":"quantitative","stack":null}}}]},
{"data":{"name":"cbars"},"transform":[{"filter":"datum.type==='Immune excluded'"}],
"encoding":{"x":{"field":"treatment","type":"nominal","sort":null,"scale":{"range":[776,1003],"paddingInner":0.2,"paddingOuter":0.141,"align":0.695},"axis":{"orient":"bottom","offset":-344.3,"labels":false,"ticks":false,"title":null}},"xOffset":{"field":"response","type":"nominal","sort":null,"scale":{"paddingInner":0.415,"paddingOuter":0.049}}},
"layer":[
{"mark":{"type":"rule","color":"#222","strokeWidth":1.2},"encoding":{"y":{"field":"pct","type":"quantitative","scale":{"domain":[0,88],"range":[386.7,289.3],"nice":false},"axis":{"orient":"left","offset":-776,"values":[0,25,50,75],"title":null}},"y2":{"field":"upper"}}},
{"mark":{"type":"tick","size":7,"thickness":1.2,"color":"#222"},"encoding":{"y":{"field":"upper","type":"quantitative"}}},
{"mark":{"type":"bar","color":"#70C97A"},"encoding":{"y":{"field":"pct","type":"quantitative","stack":null}}},
{"mark":{"type":"rule","color":"#333","strokeWidth":1},"encoding":{"y":{"datum":0},"y2":{"datum":-4.5}}},
{"mark":{"type":"text","align":"center","fontSize":16,"color":"#333"},"encoding":{"y":{"datum":-15.7},"text":{"field":"response"}}}]},
{"data":{"name":"one"},"layer":[
{"mark":{"type":"rect","color":"#BEBEBE"},"encoding":{"x":{"datum":-0.0044,"axis":null,"scale":{"domain":[0,1],"range":[776,1003],"nice":false,"zero":false}},"x2":{"datum":0.511},"y":{"datum":0.9416,"axis":null,"scale":{"domain":[0,1],"range":[386.7,10],"nice":false,"zero":false}},"y2":{"datum":1}}},
{"mark":{"type":"rect","color":"#BEBEBE"},"encoding":{"x":{"datum":0.524,"axis":null},"x2":{"datum":1},"y":{"datum":0.9416,"axis":null},"y2":{"datum":1}}},
{"mark":{"type":"text","fontSize":13,"align":"center"},"encoding":{"x":{"datum":0.26,"axis":null},"y":{"datum":0.9695,"axis":null},"text":{"value":"Anti-PD1 treatment"}}},
{"mark":{"type":"text","fontSize":13,"align":"center"},"encoding":{"x":{"datum":0.762,"axis":null},"y":{"datum":0.9695,"axis":null},"text":{"value":"mTOR inhibition"}}},
{"mark":{"type":"rule","color":"#111","strokeWidth":1.2},"encoding":{"x":{"datum":0.524,"axis":null},"y":{"datum":0.634,"axis":null},"y2":{"datum":0.928}}},
{"mark":{"type":"rule","color":"#111","strokeWidth":1.2},"encoding":{"x":{"datum":0.524,"axis":null},"y":{"datum":0.317,"axis":null},"y2":{"datum":0.577}}},
{"mark":{"type":"rule","color":"#111","strokeWidth":1.2},"encoding":{"x":{"datum":0.524,"axis":null},"y":{"datum":0,"axis":null},"y2":{"datum":0.2586}}},
{"mark":{"type":"text","fontSize":15},"encoding":{"x":{"datum":0.047,"axis":null},"y":{"datum":0.217,"axis":null},"text":{"value":"p = 0.28"}}},
{"mark":{"type":"text","fontSize":15},"encoding":{"x":{"datum":0.561,"axis":null},"y":{"datum":0.217,"axis":null},"text":{"value":"p = 0.29"}}},
{"mark":{"type":"text","fontSize":16,"angle":270,"align":"center"},"encoding":{"x":{"datum":-0.151,"axis":null},"y":{"datum":0.466,"axis":null},"text":{"value":"Percentage of patients in each response group"}}},
{"mark":{"type":"text","fontSize":14,"angle":90,"align":"center","lineHeight":15},"encoding":{"x":{"datum":1.053,"axis":null},"y":{"datum":0.78,"axis":null},"text":{"value":"Immune\ninfiltrated"}}},
{"mark":{"type":"text","fontSize":14,"angle":90,"align":"center","lineHeight":15},"encoding":{"x":{"datum":1.053,"axis":null},"y":{"datum":0.458,"axis":null},"text":{"value":"Immune\ndesert"}}},
{"mark":{"type":"text","fontSize":14,"angle":90,"align":"center","lineHeight":15},"encoding":{"x":{"datum":1.053,"axis":null},"y":{"datum":0.157,"axis":null},"text":{"value":"Immune\nexcluded"}}},
{"mark":{"type":"text","fontSize":25,"fontWeight":"bold","align":"center","color":"#000"},"encoding":{"x":{"datum":-0.225,"axis":null},"y":{"datum":0.972,"axis":null},"text":{"value":"c"}}}
]},
{"data":{"name":"one"},"layer":[
{"data":{"name":"km"},"transform":[{"filter":"datum.p==='PFS'"}],"mark":{"type":"line","interpolate":"step-after"},"encoding":{
"x":{"field":"months","type":"quantitative","scale":{"domain":[-3.9,81.9],"range":[509.3,737],"nice":false,"zero":false},"axis":{"orient":"bottom","offset":-74.3,"values":[0,20,40,60,80],"title":"Months","titleFontSize":16,"titlePadding":2,"titleX":628}},
"y":{"field":"surv","type":"quantitative","scale":{"domain":[-0.049,1.049],"range":[656.7,469.3],"nice":false,"zero":false},"axis":{"orient":"left","offset":-509.3,"values":[0,0.25,0.5,0.75,1],"labelExpr":"datum.value===0?'0':format(datum.value,'.2f')","title":"Progression-free survival","titleFontSize":16,"titlePadding":8,"labelFontSize":12.5}},
"color":{"field":"group","type":"nominal","sort":null,"scale":{"domain":["Infiltrated","Excluded","Desert"],"range":["#FF8C00","#70C97A","#C78FCC"]},"legend":{"orient":"none","legendX":612,"legendY":477,"title":null,"symbolType":"M-3,0H3","symbolSize":70,"symbolStrokeWidth":3,"labelOffset":10,"labelFontSize":13,"labelColor":"#222","labelFont":"Liberation Sans","rowPadding":0}},
"strokeWidth":{"field":"group","type":"nominal","legend":null,"scale":{"domain":["Infiltrated","Excluded","Desert"],"range":[4,2.5,3]}}}},
{"data":{"name":"censor"},"transform":[{"filter":"datum.p==='PFS'"}],"mark":{"type":"tick","orient":"vertical","size":7,"thickness":1},"encoding":{"x":{"field":"months","type":"quantitative"},"y":{"field":"surv","type":"quantitative"},"color":{"field":"group","type":"nominal","legend":null}}},
{"mark":{"type":"text","fontSize":25,"fontWeight":"bold","align":"center","color":"#000"},"encoding":{"x":{"datum":-13.9},"y":{"datum":1.309},"text":{"value":"d"}}},
{"mark":{"type":"text","fontSize":15},"encoding":{"x":{"datum":-1.77},"y":{"datum":1.145},"text":{"value":"p = 0.88"}}},
{"mark":{"type":"text","fontSize":12.5},"encoding":{"x":{"datum":61.5},"y":{"datum":0.271},"text":{"value":"n = 8"}}},
{"mark":{"type":"text","fontSize":12.5},"encoding":{"x":{"datum":63.8},"y":{"datum":0.156},"text":{"value":"n = 36"}}},
{"mark":{"type":"text","fontSize":12.5},"encoding":{"x":{"datum":70.1},"y":{"datum":0.068},"text":{"value":"n = 109"}}}
]},
{"data":{"name":"one"},"layer":[
{"data":{"name":"km"},"transform":[{"filter":"datum.p==='OS'"}],"mark":{"type":"line","interpolate":"step-after"},"encoding":{
"x":{"field":"months","type":"quantitative","scale":{"domain":[-4.04,83.8],"range":[786,1018.7],"nice":false,"zero":false},"axis":{"orient":"bottom","offset":-75,"values":[0,20,40,60,80],"title":"Months","titleFontSize":16,"titlePadding":2}},
"y":{"field":"surv","type":"quantitative","scale":{"domain":[-0.047,1.05],"range":[656,469.3],"nice":false,"zero":false},"axis":{"orient":"left","offset":-786,"values":[0,0.25,0.5,0.75,1],"labelExpr":"datum.value===0?'0':format(datum.value,'.2f')","title":"Overall survival","titleFontSize":16,"titlePadding":8,"labelFontSize":12.5}},
"color":{"field":"group","type":"nominal","sort":null,"scale":{"domain":["Infiltrated","Excluded","Desert"],"range":["#FF8C00","#70C97A","#C78FCC"]},"legend":null},
"strokeWidth":{"field":"group","type":"nominal","legend":null,"scale":{"domain":["Infiltrated","Excluded","Desert"],"range":[4,2.5,3]}}}},
{"data":{"name":"censor"},"transform":[{"filter":"datum.p==='OS'"}],"mark":{"type":"tick","orient":"vertical","size":7,"thickness":1},"encoding":{"x":{"field":"months","type":"quantitative"},"y":{"field":"surv","type":"quantitative"},"color":{"field":"group","type":"nominal","legend":null}}},
{"mark":{"type":"text","fontSize":15},"encoding":{"x":{"datum":-4.15},"y":{"datum":1.141},"text":{"value":"p = 0.65"}}},
{"mark":{"type":"text","fontSize":12.5},"encoding":{"x":{"datum":70.4},"y":{"datum":0.506},"text":{"value":"n = 8"}}},
{"mark":{"type":"text","fontSize":12.5},"encoding":{"x":{"datum":74.8},"y":{"datum":0.282},"text":{"value":"n = 36"}}},
{"mark":{"type":"text","fontSize":12.5},"encoding":{"x":{"datum":74.8},"y":{"datum":0.169},"text":{"value":"n = 109"}}}
]}
]
}
